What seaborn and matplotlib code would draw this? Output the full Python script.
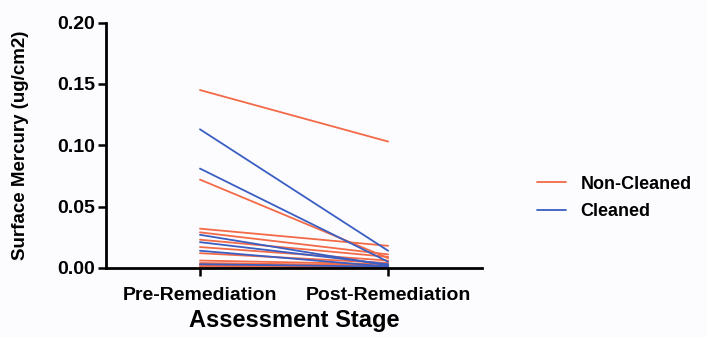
import matplotlib
matplotlib.use("Agg")
import matplotlib.pyplot as plt
import seaborn as sns
import pandas as pd

stages = ["Pre-Remediation", "Post-Remediation"]
groups = ["Non-Cleaned", "Cleaned"]

nc_pre = [0.145, 0.072, 0.032, 0.029, 0.023, 0.017, 0.012, 0.006, 0.004, 0.003, 0.002, 0.001]
nc_post = [0.103, 0.008, 0.018, 0.011, 0.009, 0.006, 0.004, 0.003, 0.002, 0.001, 0.001, 0.000]
cl_pre = [0.113, 0.081, 0.027, 0.021, 0.014, 0.003]
cl_post = [0.014, 0.005, 0.002, 0.003, 0.001, 0.001]

yticks = [0.00, 0.05, 0.10, 0.15, 0.20]
ytick_labels = ["0.00", "0.05", "0.10", "0.15", "0.20"]

rows = []
uid = 0
for g, pre, post in [(groups[0], nc_pre, nc_post), (groups[1], cl_pre, cl_post)]:
    for a, b in zip(pre, post):
        rows.append({"id": uid, "group": g, "stage": stages[0], "value": a})
        rows.append({"id": uid, "group": g, "stage": stages[1], "value": b})
        uid += 1
df = pd.DataFrame(rows)

sns.set_style("ticks")
plt.rcParams["font.family"] = ["Liberation Sans", "DejaVu Sans"]
plt.rcParams["font.weight"] = "bold"
plt.rcParams["text.color"] = "black"
plt.rcParams["axes.labelcolor"] = "black"

fig = plt.figure(figsize=(7.06, 3.37), dpi=100)
fig.patch.set_facecolor("#fcfcfe")
ax = fig.add_axes([0.150, 0.205, 0.533, 0.728])
ax.set_facecolor("#fcfcfe")

palette = {"Non-Cleaned": "#f26a48", "Cleaned": "#3a5ec2"}
sns.lineplot(data=df, x="stage", y="value", hue="group", units="id",
             estimator=None, palette=palette, hue_order=groups,
             linewidth=1.3, ax=ax, sort=False)

ax.set_xlim(-0.5, 1.5)
ax.set_ylim(0, 0.20)
ax.set_yticks(yticks)
ax.set_yticklabels(ytick_labels)
ax.set_xticks([0, 1])
ax.set_xticklabels(stages)
for s in ["top", "right"]:
    ax.spines[s].set_visible(False)
for s in ["left", "bottom"]:
    ax.spines[s].set_linewidth(2)
    ax.spines[s].set_color("black")
ax.tick_params(axis="both", width=1.8, length=6, labelsize=14, colors="black", pad=2)
ax.tick_params(axis="x", pad=8)
for lab in ax.get_xticklabels() + ax.get_yticklabels():
    lab.set_fontweight("bold")
ax.set_xlabel("Assessment Stage", fontsize=17, fontweight="bold", labelpad=3, color="black")
ax.set_ylabel("Surface Mercury (ug/cm2)", fontsize=13.5, fontweight="bold", labelpad=20, color="black")

leg = ax.legend(loc="center left", bbox_to_anchor=(1.146, 0.285), frameon=False,
                fontsize=13, handlelength=1.6, handletextpad=0.8, labelspacing=0.6,
                borderaxespad=0, borderpad=0)
for t in leg.get_texts():
    t.set_fontweight("bold")
    t.set_color("black")

fig.savefig("out.png", dpi=100, facecolor=fig.get_facecolor())
